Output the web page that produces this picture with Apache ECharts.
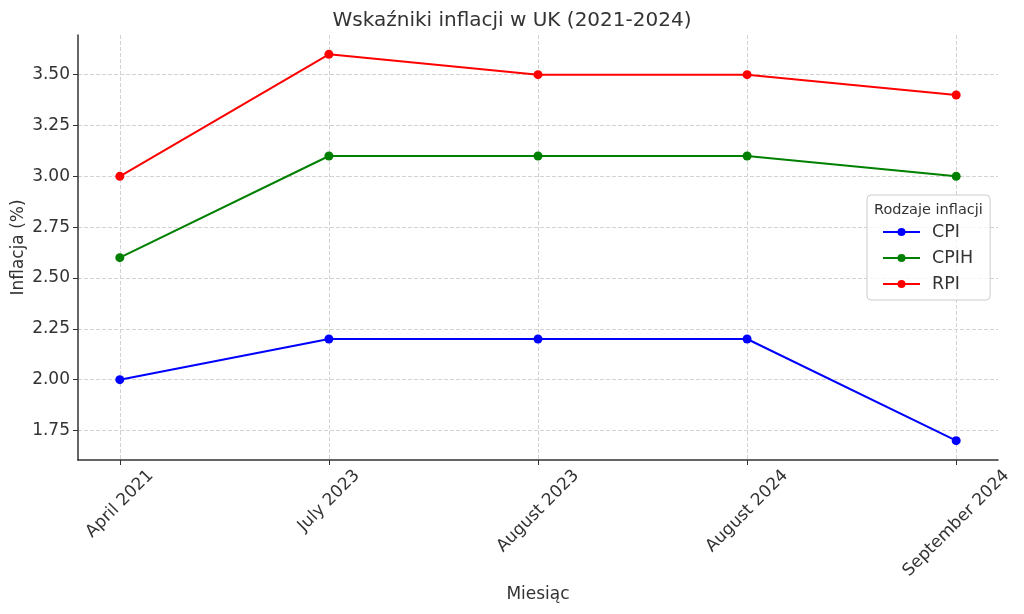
<!DOCTYPE html>
<html>
<head>
<meta charset="utf-8">
<script src="https://cdn.jsdelivr.net/npm/echarts@6/dist/echarts.min.js"></script>
<style>
html,body{margin:0;padding:0;background:#fff;}
#chart{width:1024px;height:614px;}
</style>
</head>
<body>
<div id="chart"></div>
<script>
var months = ['April 2021', 'July 2023', 'August 2023', 'August 2024', 'September 2024'];
var cpi = [2.0, 2.2, 2.2, 2.2, 1.7];
var cpih = [2.6, 3.1, 3.1, 3.1, 3.0];
var rpi = [3.0, 3.6, 3.5, 3.5, 3.4];
var yTicks = [1.75, 2.00, 2.25, 2.50, 2.75, 3.00, 3.25, 3.50];

var font = 'DejaVu Sans';
var textColor = '#333';
var labelSize = 17;
var xIdx = months.map(function (m, i) { return i; });
var yMin = 1.605, yMax = 3.695;

function pairs(arr) {
	return arr.map(function (v, i) { return [i, v]; });
}
function line(name, color, arr) {
	return {
		name: name,
		type: 'line',
		data: pairs(arr),
		symbol: 'circle',
		symbolSize: 9,
		lineStyle: {color: color, width: 2},
		itemStyle: {color: color},
		emphasis: {disabled: true}
	};
}

var chart = echarts.init(document.getElementById('chart'));
chart.setOption({
	animation: false,
	textStyle: {fontFamily: font},
	title: [{
		text: 'Wskaźniki inflacji w UK (2021-2024)',
		left: 'center',
		top: 6,
		textStyle: {fontFamily: font, fontSize: 20, fontWeight: 'normal', color: textColor}
	}, {
		text: 'Rodzaje inflacji',
		left: 869,
		top: 198,
		textStyle: {fontFamily: font, fontSize: 14.5, fontWeight: 'normal', color: textColor}
	}],
	legend: {
		orient: 'vertical',
		left: 867,
		top: 195,
		width: 100,
		padding: [28, 17, 7, 15],
		itemGap: 8,
		itemWidth: 37,
		itemHeight: 10,
		borderColor: '#ccc',
		borderWidth: 1,
		borderRadius: 4,
		backgroundColor: 'rgba(255,255,255,0.8)',
		textStyle: {fontFamily: font, fontSize: 17.5, color: textColor, padding: [0, 0, 0, 7]},
		data: ['CPI', 'CPIH', 'RPI']
	},
	grid: {left: 78, right: 26, top: 35, bottom: 154, containLabel: false, outerBoundsMode: 'none'},
	xAxis: {
		type: 'value',
		min: -0.2,
		max: 4.2,
		name: 'Miesiąc',
		nameLocation: 'middle',
		nameGap: 126,
		nameMoveOverlap: false,
		nameTextStyle: {fontFamily: font, fontSize: labelSize, color: textColor},
		axisLine: {show: true, onZero: false, lineStyle: {color: '#333', width: 1.5}},
		axisTick: {show: true, customValues: xIdx, length: 5, lineStyle: {color: '#333'}},
		axisLabel: {show: false, customValues: xIdx},
		splitLine: {show: true, lineStyle: {color: '#d3d3d3', type: 'dashed', width: 1}}
	},
	yAxis: {
		type: 'value',
		min: yMin,
		max: yMax,
		name: 'Inflacja (%)',
		nameLocation: 'middle',
		nameGap: 51,
		nameMoveOverlap: false,
		nameTextStyle: {fontFamily: font, fontSize: labelSize, color: textColor},
		axisLine: {show: true, onZero: false, lineStyle: {color: '#333', width: 1.5}},
		axisTick: {show: true, customValues: yTicks, length: 5, lineStyle: {color: '#333'}},
		axisLabel: {
			customValues: yTicks,
			margin: 8,
			fontFamily: font,
			fontSize: labelSize,
			color: textColor,
			formatter: function (v) { return v.toFixed(2); }
		},
		splitLine: {show: true, lineStyle: {color: '#d3d3d3', type: 'dashed', width: 1}}
	},
	series: [
		line('CPI', '#0000ff', cpi),
		line('CPIH', '#008000', cpih),
		line('RPI', '#ff0000', rpi)
	]
});

// month labels: rotated 45deg, centred under each tick like matplotlib
var ctx = document.createElement('canvas').getContext('2d');
ctx.font = labelSize + 'px "' + font + '"';
var axisY = chart.convertToPixel({yAxisIndex: 0}, yMin);
var labels = months.map(function (m, i) {
	var w = ctx.measureText(m).width;
	var half = (w + labelSize * 1.15) / (2 * Math.SQRT2);
	return {
		type: 'text',
		x: chart.convertToPixel({xAxisIndex: 0}, i),
		y: axisY + 6 + half,
		rotation: Math.PI / 4,
		style: {
			text: m,
			font: labelSize + 'px "' + font + '"',
			fill: textColor,
			align: 'center',
			verticalAlign: 'middle'
		}
	};
});
chart.setOption({graphic: labels});
</script>
</body>
</html>
